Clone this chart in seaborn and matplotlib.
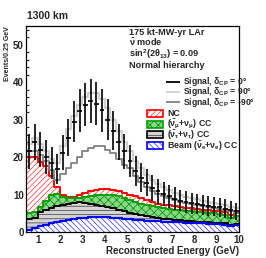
import numpy as np
import pandas as pd
import matplotlib
matplotlib.use("Agg")
import matplotlib.pyplot as plt
import seaborn as sns
from matplotlib.patches import Rectangle
from matplotlib.ticker import MultipleLocator

# ---------------- data ----------------
bin_edges = [0.5 + 0.25 * i for i in range(39)]
bin_centers = [0.625, 0.875, 1.125, 1.375, 1.625, 1.875, 2.125, 2.375, 2.625, 2.875,
               3.125, 3.375, 3.625, 3.875, 4.125, 4.375, 4.625, 4.875, 5.125, 5.375,
               5.625, 5.875, 6.125, 6.375, 6.625, 6.875, 7.125, 7.375, 7.625, 7.875,
               8.125, 8.375, 8.625, 8.875, 9.125, 9.375, 9.625, 9.875]

beam_cc = [0.6, 1.0, 1.5, 1.9, 2.3, 2.7, 3.0, 3.3, 3.5, 3.7, 3.85, 3.95, 4.0, 4.0, 3.95,
           3.85, 3.7, 3.5, 3.35, 3.25, 3.15, 3.05, 2.95, 2.9, 2.8, 2.75, 2.65, 2.6, 2.5,
           2.45, 2.4, 2.3, 2.25, 2.15, 2.05, 1.95, 1.5, 1.9]
tau_cc = [2.9, 2.8, 3.9, 4.0, 4.1, 4.2, 4.3, 4.3, 4.3, 4.3, 3.95, 3.65, 3.3, 3.0, 2.75,
          2.45, 2.2, 2.0, 1.75, 1.55, 1.35, 1.15, 0.95, 0.8, 0.7, 0.6, 0.55, 0.5, 0.5,
          0.45, 0.4, 0.4, 0.35, 0.35, 0.35, 0.35, 0.4, 0.3]
numu_cc = [1.5, 1.5, 1.4, 2.4, 3.6, 3.2, 2.1, 1.4, 1.2, 1.2, 1.6, 2.0, 2.5, 2.9, 3.2,
           3.5, 3.6, 3.6, 3.5, 3.3, 3.1, 3.0, 3.0, 2.9, 2.9, 2.85, 2.8, 2.75, 2.7, 2.65,
           2.6, 2.55, 2.5, 2.45, 2.4, 2.3, 1.9, 2.1]
nc = [14.9, 14.6, 12.0, 9.2, 5.0, 1.9, 0.6, 0.4, 0.4, 0.8, 1.0, 1.3, 1.4, 1.5, 1.5,
      1.4, 1.4, 1.4, 1.4, 1.4, 1.4, 1.3, 1.1, 1.0, 0.9, 0.9, 0.9, 0.85, 0.8, 0.75,
      0.7, 0.7, 0.7, 0.7, 0.7, 0.7, 0.8, 0.7]

signal_dcp0 = [21.6, 24.0, 22.0, 20.0, 18.3, 16.8, 21.2, 25.2, 29.5, 32.4, 34.0, 35.0,
               34.3, 32.5, 30.0, 27.0, 24.0, 21.5, 19.0, 16.3, 14.5, 13.1, 11.8, 10.9,
               10.1, 9.5, 8.9, 8.4, 8.0, 7.7, 7.5, 7.25, 7.05, 6.8, 6.55, 6.25, 5.9, 5.5]
signal_dcp90 = [23.5, 25.0, 23.5, 21.5, 19.5, 18.5, 23.0, 27.5, 31.0, 34.0, 36.0, 37.0,
                37.0, 35.5, 33.0, 30.0, 27.0, 24.0, 21.5, 19.0, 17.0, 15.3, 13.9, 12.8,
                11.9, 11.1, 10.4, 9.9, 9.4, 9.0, 8.7, 8.4, 8.1, 7.8, 7.5, 7.1, 6.7, 6.3]
signal_dcpm90 = [21.5, 21.5, 20.5, 19.0, 16.5, 14.0, 15.5, 17.0, 18.5, 20.0, 21.5, 22.5,
                 23.0, 23.0, 22.0, 21.0, 19.5, 18.0, 17.0, 15.0, 13.3, 12.0, 11.0, 10.2,
                 9.6, 9.0, 8.5, 8.1, 7.8, 7.5, 7.2, 7.0, 6.8, 6.5, 6.2, 5.9, 5.5, 5.1]

x_ticks = [1, 2, 3, 4, 5, 6, 7, 8, 9, 10]
y_ticks = [0, 10, 20, 30, 40, 50]

line_labels = [r"Signal, $\delta_{CP}$ = 0°", r"Signal, $\delta_{CP}$ = 90°",
               r"Signal, $\delta_{CP}$ = -90°"]
patch_labels = ["NC", r"($\bar{\nu}_{\mu}$+$\nu_{\mu}$) CC",
                r"($\bar{\nu}_{\tau}$+$\nu_{\tau}$) CC",
                r"Beam ($\bar{\nu}_{e}$+$\nu_{e}$) CC"]
info_lines = ["175 kt-MW-yr LAr", r"$\bar{\nu}$ mode",
              r"sin$^{2}$(2$\theta_{13}$) = 0.09", "Normal hierarchy"]

# ---------------- style ----------------
sns.set_theme(style="white")
plt.rcParams["font.family"] = ["Liberation Sans", "DejaVu Sans"]
plt.rcParams["font.weight"] = "bold"
plt.rcParams["mathtext.fontset"] = "custom"
plt.rcParams["mathtext.rm"] = "Liberation Sans:bold"
plt.rcParams["mathtext.it"] = "Liberation Sans:bold"
plt.rcParams["mathtext.bf"] = "Liberation Sans:bold"
plt.rcParams["hatch.linewidth"] = 0.5
plt.rcParams["axes.linewidth"] = 0.9

fig = plt.figure(figsize=(2.66, 2.58), dpi=100)
ax = fig.add_axes([0.0996, 0.1008, 0.7994, 0.7984])

# cumulative stacks
beam_top = np.array(beam_cc)
tau_top = beam_top + np.array(tau_cc)
numu_top = tau_top + np.array(numu_cc)
nc_top = numu_top + np.array(nc)


def hist(vals, **kw):
    df = pd.DataFrame({"E": bin_centers, "w": np.asarray(vals, dtype=float)})
    sns.histplot(data=df, x="E", weights="w", bins=bin_edges, element="step",
                 ax=ax, legend=False, **kw)


RED_H, GRN_H, TAU_H, BLU_H = "//////", "xxxx", "----", "\\\\\\\\\\\\"
styles = [
    # face, hatch colour, hatch, outline colour, outline width
    ("white", "#ff3030", RED_H, "#ff0000", 1.4),
    ("#86d886", "#008c00", GRN_H, "#00a000", 1.4),
    ("#d4d4d4", "#3a3a3a", TAU_H, "#000000", 1.4),
    ("white", "#3030ff", BLU_H, "#0000ff", 1.6),
]
for vals, (fc, hc, hatch, lc, lw) in zip([nc_top, numu_top, tau_top, beam_top], styles):
    hist(vals, fill=True, facecolor=fc, edgecolor=hc, hatch=hatch, linewidth=0,
         alpha=1)
    hist(vals, fill=False, color=lc, linewidth=lw)

# signal predictions
hist(signal_dcp90, fill=False, color="#d0d0d0", linewidth=1.6)
hist(signal_dcpm90, fill=False, color="#808080", linewidth=1.3)
ax.errorbar(bin_centers, signal_dcp0, yerr=np.sqrt(signal_dcp0), xerr=0.11,
            fmt="none", ecolor="black", elinewidth=1.2, capsize=0, zorder=5)

ax.set_xlim(0.5, 10)
ax.set_ylim(0, 55)
ax.set_xticks(x_ticks)
ax.set_yticks(y_ticks)
ax.xaxis.set_minor_locator(MultipleLocator(0.2))
ax.yaxis.set_minor_locator(MultipleLocator(2))
ax.tick_params(which="both", direction="in", top=False, right=False,
               labelsize=7, width=0.8, pad=2)
ax.tick_params(which="major", length=3.3)
ax.tick_params(which="minor", length=1.8, bottom=True, left=True)
for lab in ax.get_xticklabels() + ax.get_yticklabels():
    lab.set_fontweight("bold")
ax.set_xlabel("Reconstructed Energy (GeV)", fontsize=7, fontweight="bold",
              loc="right", labelpad=1)
ax.set_ylabel("Events/0.25 GeV", fontsize=5.0, fontweight="bold", loc="top",
              labelpad=1.5)
for s in ax.spines.values():
    s.set_color("black")
    s.set_linewidth(0.9)

fig.text(0.10, 0.938, "1300 km", fontsize=7.5, fontweight="bold", va="center")

for yy, txt in zip([0.970, 0.918, 0.864, 0.810], info_lines):
    ax.text(0.48, yy, txt, transform=ax.transAxes, fontsize=6.6, fontweight="bold",
            va="center", ha="left")

# legend: signal lines
for yy, col, lab in zip([0.730, 0.680, 0.630], ["black", "#d0d0d0", "#808080"],
                        line_labels):
    ax.plot([0.657, 0.722], [yy, yy], transform=ax.transAxes, color=col, lw=1.3,
            clip_on=False, solid_capstyle="butt")
    ax.text(0.736, yy, lab, transform=ax.transAxes, fontsize=6.2,
            fontweight="bold", va="center", ha="left", clip_on=False)

# legend: background patches
for yy, (fc, hc, hatch, lc, lw), lab in zip([0.573, 0.522, 0.471, 0.420], styles,
                                            patch_labels):
    ax.add_patch(Rectangle((0.567, yy - 0.017), 0.075, 0.034, transform=ax.transAxes,
                           facecolor=fc, edgecolor=hc, hatch=hatch, lw=0,
                           clip_on=False, zorder=6))
    ax.add_patch(Rectangle((0.567, yy - 0.017), 0.075, 0.034, transform=ax.transAxes,
                           facecolor="none", edgecolor=lc, lw=1.2,
                           clip_on=False, zorder=6))
    ax.text(0.661, yy, lab, transform=ax.transAxes, fontsize=6.3,
            fontweight="bold", va="center", ha="left")

fig.savefig("out.png", dpi=100)
